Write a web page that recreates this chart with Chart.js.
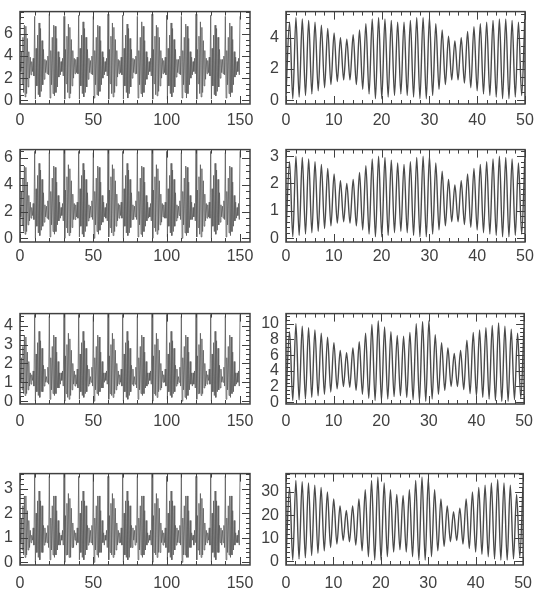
<!DOCTYPE html>
<html><head><meta charset="utf-8">
<script src="https://cdn.jsdelivr.net/npm/chart.js@4.4.1/dist/chart.umd.min.js"></script>
<style>
html,body{margin:0;padding:0;background:#fff;width:537px;height:600px;overflow:hidden}
canvas{position:absolute}
</style></head><body>
<script>
// ---------- DATA ----------
const leftLabels = [0, 50, 100, 150];
const rightLabels = [0, 10, 20, 30, 40, 50];
const leftStep = 0.5; // left-column samples every 0.5 time units, t = 0..150

const L1 = [
 3.3,2.6,4.4,1.5,5.7,0.7,6.8,0.3,6.7,0.6,5.6,1.2,4.4,2.0,3.9,2.3,3.5,2.6,3.8,2.2,
 7.6,0.1,4.7,1.3,5.9,0.5,7.0,0.3,6.5,0.8,5.4,1.4,4.6,1.9,3.7,2.5,3.6,2.4,4.0,2.3,
 7.8,0.2,4.5,1.4,5.7,0.6,6.8,0.4,6.7,0.7,5.6,1.2,4.4,2.1,3.9,2.3,3.5,2.6,3.8,2.2,
 7.6,0.1,4.6,1.5,5.8,0.7,6.9,0.2,6.6,0.6,5.5,1.3,4.5,2.0,3.8,2.4,3.7,2.5,3.9,2.4,
 7.7,0.1,4.7,1.3,5.9,0.6,7.1,0.3,6.5,0.7,5.7,1.2,4.6,1.9,3.8,2.5,3.6,2.4,4.0,2.3,
 7.6,0.2,4.5,1.4,5.7,0.5,6.8,0.4,6.7,0.8,5.4,1.4,4.4,2.0,3.9,2.3,3.5,2.6,3.8,2.2,
 7.8,0.1,4.6,1.5,5.8,0.6,7.0,0.3,6.6,0.7,5.5,1.3,4.5,2.1,3.7,2.4,3.6,2.5,3.9,2.3,
 7.7,0.1,4.7,1.3,5.9,0.7,6.9,0.2,6.5,0.6,5.6,1.2,4.6,2.0,3.8,2.5,3.7,2.4,4.0,2.4,
 7.6,0.2,4.5,1.4,5.7,0.6,7.1,0.3,6.7,0.7,5.4,1.4,4.4,1.9,3.9,2.3,3.5,2.6,3.8,2.2,
 7.8,0.1,4.6,1.5,5.8,0.5,6.8,0.4,6.6,0.8,5.7,1.3,4.5,2.0,3.8,2.4,3.6,2.5,3.9,2.3,
 7.7,0.1,4.7,1.3,5.9,0.6,7.0,0.3,6.5,0.7,5.5,1.2,4.6,2.1,3.7,2.5,3.7,2.4,4.0,2.3,
 7.6,0.2,4.5,1.4,5.7,0.7,6.9,0.2,6.7,0.6,5.6,1.4,4.4,2.0,3.9,2.3,3.5,2.6,3.8,2.4,
 7.8,0.1,4.6,1.5,5.8,0.6,7.1,0.3,6.6,0.7,5.4,1.3,4.5,1.9,3.8,2.4,3.6,2.5,3.9,2.2,
 7.7,0.1,4.7,1.3,5.9,0.5,6.8,0.4,6.5,0.8,5.7,1.2,4.6,2.0,3.7,2.5,3.7,2.4,4.0,2.3,
 7.6,0.2,4.5,1.4,5.7,0.6,7.0,0.3,6.7,0.7,5.5,1.4,4.4,2.1,3.9,2.3,3.5,2.6,3.8,2.3,
 7.6];
const L2 = [
 2.3,1.6,3.5,1.0,4.5,0.5,5.4,0.3,5.3,0.5,4.2,1.0,3.2,1.3,2.7,1.5,2.3,1.7,2.6,1.4,
 6.5,0.0,3.7,0.9,4.7,0.4,5.6,0.2,5.1,0.6,4.4,0.9,3.4,1.2,2.5,1.6,2.4,1.5,2.8,1.4,
 6.4,0.1,3.5,1.0,4.5,0.5,5.4,0.3,5.3,0.5,4.2,1.0,3.2,1.3,2.7,1.5,2.3,1.7,2.6,1.3,
 6.6,0.0,3.6,0.8,4.6,0.4,5.5,0.2,5.2,0.4,4.3,0.8,3.3,1.4,2.6,1.4,2.5,1.6,2.7,1.5,
 6.5,0.1,3.7,0.9,4.7,0.3,5.6,0.1,5.1,0.5,4.4,0.9,3.4,1.3,2.5,1.5,2.4,1.6,2.8,1.4,
 6.4,0.0,3.5,1.0,4.5,0.5,5.4,0.3,5.3,0.6,4.2,1.0,3.2,1.2,2.7,1.6,2.3,1.5,2.6,1.3,
 6.6,0.1,3.6,0.8,4.6,0.4,5.5,0.2,5.2,0.5,4.3,0.9,3.3,1.3,2.6,1.5,2.5,1.7,2.7,1.5,
 6.5,0.0,3.7,0.9,4.7,0.4,5.6,0.2,5.1,0.4,4.4,0.8,3.4,1.4,2.5,1.4,2.4,1.6,2.8,1.4,
 6.4,0.1,3.5,1.0,4.5,0.3,5.4,0.1,5.3,0.5,4.2,0.9,3.2,1.3,2.7,1.5,2.3,1.6,2.6,1.3,
 6.6,0.0,3.6,0.8,4.6,0.5,5.5,0.3,5.2,0.6,4.3,1.0,3.3,1.2,2.6,1.6,2.5,1.5,2.7,1.5,
 6.5,0.1,3.7,0.9,4.7,0.4,5.6,0.2,5.1,0.5,4.4,0.9,3.4,1.3,2.5,1.5,2.4,1.7,2.8,1.4,
 6.4,0.0,3.5,1.0,4.5,0.4,5.4,0.2,5.3,0.4,4.2,0.8,3.2,1.4,2.7,1.4,2.3,1.6,2.6,1.3,
 6.6,0.1,3.6,0.8,4.6,0.3,5.5,0.1,5.2,0.5,4.3,0.9,3.3,1.3,2.6,1.5,2.5,1.6,2.7,1.5,
 6.5,0.0,3.7,0.9,4.7,0.5,5.6,0.3,5.1,0.6,4.4,1.0,3.4,1.2,2.5,1.6,2.4,1.5,2.8,1.4,
 6.4,0.1,3.5,1.0,4.5,0.4,5.4,0.2,5.3,0.5,4.2,0.9,3.2,1.3,2.7,1.5,2.3,1.7,2.6,1.4,
 6.5];
const L3 = [
 1.5,1.0,2.3,0.6,2.9,0.4,3.5,0.3,3.4,0.4,2.6,0.6,2.1,0.8,1.5,0.9,1.4,1.1,1.6,0.8,
 4.6,0.0,2.5,0.5,3.1,0.3,3.7,0.2,3.2,0.5,2.8,0.5,1.9,0.8,1.7,1.0,1.3,1.0,1.8,0.9,
 4.5,0.1,2.3,0.6,2.9,0.4,3.5,0.3,3.4,0.4,2.6,0.7,2.1,0.7,1.5,0.9,1.5,1.1,1.6,0.8,
 4.7,0.0,2.4,0.4,3.0,0.2,3.6,0.1,3.3,0.3,2.7,0.6,2.0,0.9,1.6,0.8,1.4,0.9,1.7,0.7,
 4.6,0.1,2.5,0.5,3.1,0.3,3.7,0.2,3.2,0.4,2.8,0.5,1.9,0.8,1.7,0.9,1.3,1.0,1.8,0.8,
 4.5,0.0,2.3,0.6,2.9,0.4,3.5,0.3,3.4,0.5,2.6,0.7,2.1,0.7,1.5,1.0,1.5,1.1,1.6,0.9,
 4.7,0.1,2.4,0.4,3.0,0.3,3.6,0.2,3.3,0.4,2.7,0.6,2.0,0.8,1.6,0.9,1.4,1.0,1.7,0.8,
 4.6,0.0,2.5,0.5,3.1,0.2,3.7,0.1,3.2,0.3,2.8,0.5,1.9,0.9,1.7,0.8,1.3,0.9,1.8,0.7,
 4.5,0.1,2.3,0.6,2.9,0.4,3.5,0.3,3.4,0.4,2.6,0.7,2.1,0.8,1.5,0.9,1.5,1.1,1.6,0.9,
 4.7,0.0,2.4,0.4,3.0,0.3,3.6,0.2,3.3,0.5,2.7,0.6,2.0,0.7,1.6,1.0,1.4,1.0,1.7,0.8,
 4.6,0.1,2.5,0.5,3.1,0.3,3.7,0.2,3.2,0.4,2.8,0.5,1.9,0.8,1.7,0.9,1.3,1.0,1.8,0.8,
 4.5,0.0,2.3,0.6,2.9,0.2,3.5,0.1,3.4,0.3,2.6,0.6,2.1,0.9,1.5,0.8,1.5,0.9,1.6,0.7,
 4.7,0.1,2.4,0.4,3.0,0.4,3.6,0.3,3.3,0.4,2.7,0.7,2.0,0.8,1.6,0.9,1.4,1.1,1.7,0.9,
 4.6,0.0,2.5,0.5,3.1,0.3,3.7,0.2,3.2,0.5,2.8,0.6,1.9,0.7,1.7,1.0,1.3,1.0,1.8,0.8,
 4.5,0.1,2.3,0.6,2.9,0.3,3.5,0.2,3.4,0.4,2.6,0.5,2.1,0.8,1.5,0.9,1.5,1.0,1.6,0.8,
 4.6];
const L4 = [
 1.2,0.8,1.8,0.5,2.3,0.3,2.7,0.2,2.7,0.3,2.1,0.5,1.7,0.6,1.3,0.8,1.1,0.9,1.4,0.7,
 3.6,0.0,2.0,0.4,2.5,0.2,2.9,0.1,2.5,0.4,2.3,0.4,1.5,0.7,1.4,0.8,1.2,0.8,1.5,0.6,
 3.5,0.1,1.8,0.5,2.3,0.3,2.7,0.2,2.7,0.3,2.1,0.5,1.7,0.7,1.2,0.7,1.1,0.9,1.3,0.7,
 3.6,0.0,1.9,0.3,2.4,0.3,2.8,0.2,2.6,0.2,2.2,0.6,1.6,0.6,1.3,0.9,1.2,0.7,1.4,0.8,
 3.5,0.1,2.0,0.4,2.5,0.2,2.9,0.1,2.5,0.3,2.3,0.5,1.5,0.7,1.4,0.8,1.3,0.8,1.5,0.7,
 3.6,0.0,1.8,0.5,2.3,0.3,2.7,0.2,2.7,0.4,2.1,0.4,1.7,0.8,1.2,0.7,1.1,0.9,1.3,0.6,
 3.5,0.1,1.9,0.4,2.4,0.3,2.8,0.2,2.6,0.3,2.2,0.5,1.6,0.7,1.3,0.8,1.2,0.8,1.4,0.7,
 3.6,0.0,2.0,0.3,2.5,0.2,2.9,0.1,2.5,0.2,2.3,0.6,1.5,0.6,1.4,0.9,1.3,0.7,1.5,0.8,
 3.5,0.1,1.8,0.5,2.3,0.3,2.7,0.2,2.7,0.3,2.1,0.5,1.7,0.7,1.2,0.8,1.1,0.9,1.3,0.7,
 3.6,0.0,1.9,0.4,2.4,0.3,2.8,0.2,2.6,0.4,2.2,0.4,1.6,0.8,1.3,0.7,1.2,0.8,1.4,0.6,
 3.5,0.1,2.0,0.4,2.5,0.2,2.9,0.1,2.5,0.3,2.3,0.5,1.5,0.7,1.4,0.8,1.3,0.8,1.5,0.7,
 3.6,0.0,1.8,0.3,2.3,0.3,2.7,0.2,2.7,0.2,2.1,0.6,1.7,0.6,1.2,0.9,1.1,0.7,1.3,0.8,
 3.5,0.1,1.9,0.5,2.4,0.3,2.8,0.2,2.6,0.3,2.2,0.5,1.6,0.7,1.3,0.8,1.2,0.9,1.4,0.7,
 3.6,0.0,2.0,0.4,2.5,0.2,2.9,0.1,2.5,0.4,2.3,0.4,1.5,0.8,1.4,0.7,1.3,0.8,1.5,0.6,
 3.5,0.1,1.8,0.4,2.3,0.3,2.7,0.2,2.7,0.3,2.1,0.5,1.7,0.7,1.2,0.8,1.1,0.8,1.3,0.7,
 3.6];

// Right column: times of troughs and peaks
const tTrough = [0,1.42,2.75,4.08,5.41,6.74,8.07,9.40,10.73,12.06,13.39,14.72,16.05,17.38,18.71,20.04,21.37,22.70,24.03,25.36,26.69,28.02,29.35,30.68,32.01,33.34,34.67,36.00,37.33,38.66,39.99,41.32,42.65,43.98,45.31,46.64,47.97,49.30];
const tPeak = [0.75,2.08,3.41,4.74,6.07,7.40,8.73,10.06,11.39,12.72,14.05,15.38,16.71,18.04,19.37,20.70,22.03,23.36,24.69,26.02,27.35,28.68,30.01,31.34,32.67,34.00,35.33,36.66,37.99,39.32,40.65,41.98,43.31,44.64,45.97,47.30,48.63,49.96];

const R1peak = [5.0,5.3,5.2,5.1,5.0,4.8,4.6,4.3,4.0,3.9,4.2,4.5,4.9,5.2,5.3,5.2,5.1,5.0,5.0,5.1,5.3,5.3,5.3,4.9,4.5,4.1,3.8,4.0,4.4,4.7,4.9,5.0,5.1,5.2,5.2,5.1,5.0,5.2];
const R1trough = [0.4,0.1,0.2,0.3,0.4,0.6,0.8,1.0,1.2,1.3,1.3,1.0,0.7,0.4,0.1,0.1,0.2,0.3,0.4,0.3,0.2,0.1,0.1,0.3,0.7,1.0,1.3,1.3,1.1,0.8,0.6,0.4,0.3,0.2,0.1,0.1,0.2,0.3];
const R2peak = [2.8,3.0,2.95,2.9,2.8,2.7,2.55,2.35,2.1,2.0,2.15,2.4,2.65,2.9,3.0,2.95,2.85,2.75,2.7,2.8,2.95,3.0,3.0,2.75,2.45,2.15,1.95,2.1,2.35,2.55,2.7,2.8,2.9,3.0,2.95,2.9,2.75,2.9];
const R2trough = [0.2,0.05,0.1,0.15,0.2,0.25,0.35,0.45,0.55,0.6,0.55,0.45,0.3,0.15,0.05,0.05,0.1,0.2,0.25,0.2,0.1,0.05,0.05,0.15,0.3,0.45,0.6,0.6,0.5,0.4,0.3,0.2,0.15,0.1,0.05,0.05,0.1,0.15];
const R3peak = [9.0,10.0,9.7,9.5,9.2,8.8,8.3,7.6,6.6,6.3,6.9,7.7,8.8,9.9,10.4,9.6,9.0,8.5,8.4,8.9,10.0,10.3,10.4,8.6,7.6,6.9,6.2,6.6,7.9,8.9,9.2,9.5,9.8,10.1,9.7,9.3,8.8,9.4];
const R3trough = [0.5,0.2,0.3,0.4,0.6,0.8,1.0,1.3,1.7,2.0,1.9,1.5,1.0,0.5,0.2,0.2,0.4,0.7,0.8,0.6,0.3,0.1,0.1,0.4,1.0,1.5,2.0,2.0,1.6,1.1,0.8,0.6,0.4,0.2,0.1,0.1,0.3,0.5];
const R4peak = [32,35,34.5,34,33,32,30,27,24,22,24,27,31,35,36.5,34,31,29,28.5,31,35,36.5,36,31,27,24,21.5,23,27,30,32,33,34,35.5,34,33,29,32];
const R4trough = [1,0.5,1,1.5,2.5,3.5,4.5,6,7.5,9,8.5,7,4.5,2,0.5,0.5,2,4,5,4,2,0.5,0.5,2,4.5,6.5,8.5,9,7.5,5.5,4,3,2,1,0.5,0.5,1,2];

// ---------- BUILD ----------
function leftPts(vals){ return vals.map((v,i)=>({x:i*leftStep, y:v})); }
function rightPts(tr, pk){
  const out=[];
  for(let i=0;i<tTrough.length;i++){
    out.push({x:tTrough[i], y:tr[i]});
    out.push({x:tPeak[i], y:pk[i]});
  }
  return out;
}

const COL = {
  L:{frameLeft:20, frameRight:250, yw:20, xmin:0, xmax:156.8, xMajor:leftLabels, xMinorStep:10, lw:0.8, color:'#5c5c5c'},
  R:{frameLeft:286, frameRight:525, yw:30, xmin:0, xmax:50, xMajor:rightLabels, xMinorStep:2, lw:1.4, color:'#4a4a4a'}
};
const panels = [
  {col:'L', top:5,   bottom:104, ymin:-0.34, ymax:8.03, yMajor:[0,2,4,6], yMinorStep:0.5, lab:7, pts:leftPts(L1), smooth:false},
  {col:'R', top:5,   bottom:104, ymin:-0.24, ymax:5.67, yMajor:[0,2,4], yMinorStep:0.5, lab:7, pts:rightPts(R1trough,R1peak), smooth:true},
  {col:'L', top:143, bottom:242, ymin:-0.28, ymax:6.63, yMajor:[0,2,4,6], yMinorStep:0.5, lab:5, pts:leftPts(L2), smooth:false},
  {col:'R', top:143, bottom:242, ymin:-0.14, ymax:3.24, yMajor:[0,1,2,3], yMinorStep:0.2, lab:5, pts:rightPts(R2trough,R2peak), smooth:true},
  {col:'L', top:307, bottom:404, ymin:-0.15, ymax:4.64, yMajor:[0,1,2,3,4], yMinorStep:0.25, lab:8, pts:leftPts(L3), smooth:false},
  {col:'R', top:307, bottom:404, ymin:-0.24, ymax:11.3, yMajor:[0,2,4,6,8,10], yMinorStep:0.5, lab:8, pts:rightPts(R3trough,R3peak), smooth:true},
  {col:'L', top:467, bottom:565, ymin:-0.11, ymax:3.61, yMajor:[0,1,2,3], yMinorStep:0.2, lab:9, pts:leftPts(L4), smooth:false},
  {col:'R', top:467, bottom:565, ymin:-1.6, ymax:38, yMajor:[0,10,20,30], yMinorStep:2, lab:9, pts:rightPts(R4trough,R4peak), smooth:true}
];

const INK = '#404040';
const PADT = 10, PADR = 16, XH = 34;

const framePlugin = {
  id:'frame',
  afterDraw(chart){
    const o = chart.options.plugins.frame;
    const a = chart.chartArea, ctx = chart.ctx;
    const xs = chart.scales.x, ys = chart.scales.y;
    ctx.save();
    ctx.strokeStyle = INK;
    ctx.lineWidth = 1;
    ctx.beginPath();
    const tick = (x1,y1,x2,y2)=>{ctx.moveTo(x1,y1);ctx.lineTo(x2,y2);};
    for(let v=o.xmin; v<=o.xmax+1e-9; v+=o.xMinorStep){
      const p = Math.round(xs.getPixelForValue(v))+0.5;
      const major = o.xMajor.some(m=>Math.abs(m-v)<1e-6);
      const len = major?8:4;
      tick(p,a.bottom,p,a.bottom-len); tick(p,a.top,p,a.top+len);
    }
    const start = Math.ceil(o.ymin/o.yMinorStep)*o.yMinorStep;
    for(let v=start; v<=o.ymax+1e-9; v+=o.yMinorStep){
      const p = Math.round(ys.getPixelForValue(v))+0.5;
      const major = o.yMajor.some(m=>Math.abs(m-v)<1e-6);
      const len = major?8:4;
      tick(a.left,p,a.left+len,p); tick(a.right,p,a.right-len,p);
    }
    ctx.stroke();
    ctx.lineWidth = 1.5;
    ctx.strokeRect(a.left, a.top, a.right-a.left, a.bottom-a.top);
    ctx.restore();
  }
};

panels.forEach((P)=>{
  const C = COL[P.col];
  const cv = document.createElement('canvas');
  const w = C.yw + (C.frameRight - C.frameLeft) + PADR;
  const h = PADT + (P.bottom - P.top) + XH;
  cv.width = w; cv.height = h;
  cv.style.left = (C.frameLeft - C.yw) + 'px';
  cv.style.top = (P.top - PADT) + 'px';
  cv.style.width = w + 'px'; cv.style.height = h + 'px';
  document.body.appendChild(cv);
  const font = {family:'"Liberation Sans", Arial, Helvetica, sans-serif', size:16};
  new Chart(cv.getContext('2d'), {
    type:'line',
    data:{datasets:[{
      data:P.pts, borderColor:C.color, borderWidth:C.lw, pointRadius:0,
      tension: P.smooth?0.4:0, cubicInterpolationMode: P.smooth?'monotone':'default',
      fill:false
    }]},
    options:{
      responsive:false, animation:false, devicePixelRatio:1,
      parsing:false, normalized:true,
      layout:{padding:{top:PADT, right:PADR, left:0, bottom:0}},
      plugins:{legend:{display:false}, tooltip:{enabled:false},
        frame:{xmin:C.xmin, xmax:C.xmax, xMajor:C.xMajor, xMinorStep:C.xMinorStep,
               ymin:P.ymin, ymax:P.ymax, yMajor:P.yMajor, yMinorStep:P.yMinorStep}},
      scales:{
        x:{type:'linear', min:C.xmin, max:C.xmax,
           grid:{display:false, drawTicks:false}, border:{display:false},
           afterFit:s=>{s.height = XH;},
           afterBuildTicks:s=>{s.ticks = C.xMajor.map(v=>({value:v}));},
           ticks:{color:INK, font, padding:P.lab, maxRotation:0, autoSkip:false}},
        y:{type:'linear', min:P.ymin, max:P.ymax,
           grid:{display:false, drawTicks:false}, border:{display:false},
           afterFit:s=>{s.width = C.yw;},
           afterBuildTicks:s=>{s.ticks = P.yMajor.map(v=>({value:v}));},
           ticks:{color:INK, font, padding:7, autoSkip:false}}
      }
    },
    plugins:[framePlugin]
  });
});
</script>
</body></html>
